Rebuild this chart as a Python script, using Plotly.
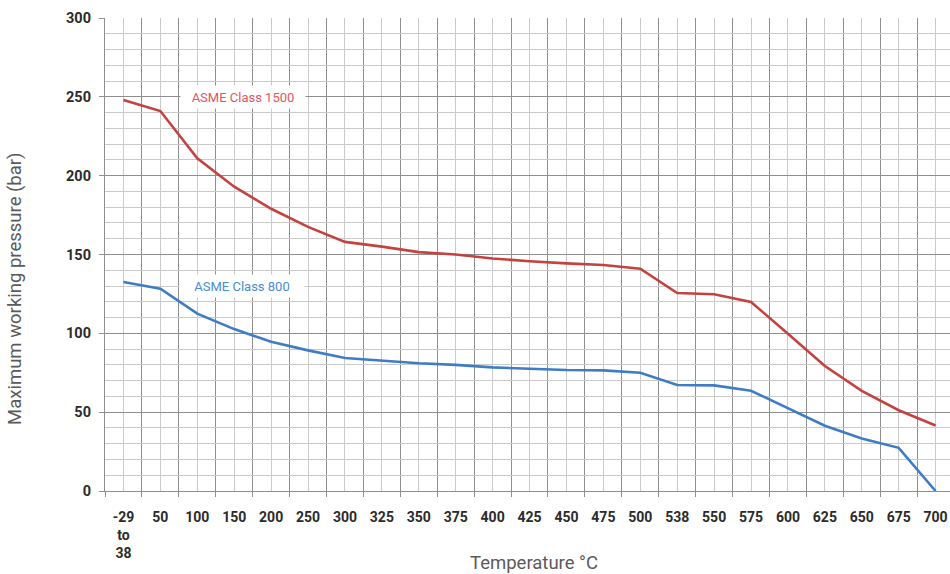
import plotly.graph_objects as go

categories = ["-29<br>to<br>38", "50", "100", "150", "200", "250", "300", "325", "350", "375",
              "400", "425", "450", "475", "500", "538", "550", "575", "600", "625",
              "650", "675", "700"]
class_1500 = [248, 241, 211, 193, 179, 167.5, 158, 155, 151.5, 150, 147.5, 145.7, 144.4,
              143.3, 141, 125.6, 124.8, 119.9, 99.8, 79.3, 63.5, 51.2, 41.5]
class_800 = [132.5, 128.3, 112.5, 102.7, 94.6, 89.2, 84.4, 82.8, 81, 80, 78.4, 77.5, 76.7,
             76.5, 75, 67.2, 67, 63.6, 52.4, 41.4, 33.3, 27.4, 0]
y_ticks = [0, 50, 100, 150, 200, 250, 300]

RED = "#c4423f"
BLUE = "#3f7cc6"
DARK = "#8e8e8e"
LIGHT = "#cacaca"
FONT = "Roboto"

idx = list(range(len(categories)))
bounds = [i - 0.5 for i in range(len(categories) + 1)]

fig = go.Figure()
fig.add_trace(go.Scatter(x=idx, y=class_1500, mode="lines", name="ASME Class 1500",
                         line=dict(color=RED, width=2.6), showlegend=False))
fig.add_trace(go.Scatter(x=idx, y=class_800, mode="lines", name="ASME Class 800",
                         line=dict(color=BLUE, width=2.6), showlegend=False))

fig.update_layout(
    width=950, height=574,
    margin=dict(l=105, r=0, t=18, b=83),
    paper_bgcolor="white", plot_bgcolor="white",
    font=dict(family=FONT, color="#333333"),
    xaxis=dict(
        range=[-0.5, 22.39],
        tickmode="array", tickvals=idx, ticktext=categories,
        showgrid=True, gridcolor=LIGHT, gridwidth=1.4,
        ticks="", ticklabelstandoff=13,
        tickfont=dict(family=FONT, size=14, color="#2b2b2b", weight="bold"),
        showline=True, linecolor=DARK, linewidth=1.2,
        zeroline=False,
        minor=dict(tickmode="array", tickvals=bounds, showgrid=True,
                   gridcolor=DARK, gridwidth=1.2, ticks="outside", ticklen=5,
                   tickcolor=DARK, tickwidth=1.2),
    ),
    yaxis=dict(
        range=[0, 300],
        tickmode="array", tickvals=y_ticks,
        showgrid=True, gridcolor=DARK, gridwidth=1.2,
        ticks="outside", ticklen=5, tickcolor=DARK, tickwidth=1.2,
        ticklabelstandoff=5,
        tickfont=dict(family=FONT, size=14.5, color="#2b2b2b", weight="bold"),
        showline=True, linecolor=DARK, linewidth=1.2,
        zeroline=False,
        minor=dict(dtick=10, showgrid=True, gridcolor=LIGHT, gridwidth=1.4),
    ),
    annotations=[
        dict(text="Temperature °C", xref="paper", yref="paper", x=0.5077, y=-0.152,
             xanchor="center", yanchor="middle", showarrow=False,
             font=dict(family=FONT, size=18.5, color="#5a5a5a")),
        dict(text="Maximum working pressure (bar)", xref="paper", yref="paper",
             x=-0.1072, y=0.428, textangle=-90, xanchor="center", yanchor="middle",
             showarrow=False, font=dict(family=FONT, size=18.5, color="#5a5a5a")),
        dict(text="ASME Class 1500", x=3.24, y=250, xref="x", yref="y", showarrow=False,
             bgcolor="white", width=122, height=20, borderpad=1,
             font=dict(family=FONT, size=13, color="#e0565e")),
        dict(text="ASME Class 800", x=3.22, y=130, xref="x", yref="y", showarrow=False,
             bgcolor="white", width=122, height=20, borderpad=1,
             font=dict(family=FONT, size=13, color="#4a8ccf")),
    ],
)

page_css = ("document.documentElement.style.overflow='hidden';"
            "document.body.style.margin='0';"
            "document.body.style.overflow='hidden';")
fig.write_html("out.html", post_script=page_css, config={"displayModeBar": False})
